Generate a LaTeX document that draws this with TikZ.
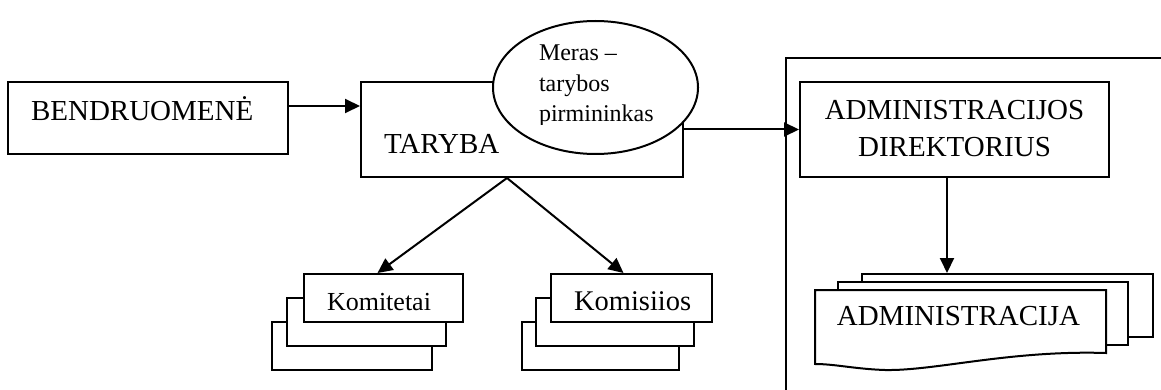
\documentclass[tikz,border=0pt]{standalone}
\usepackage{fontspec}
\setmainfont{Liberation Serif}
\usetikzlibrary{arrows.meta,shapes.geometric}
\begin{document}
\begin{tikzpicture}[x=1pt,y=-1pt,
  line width=2pt,
  box/.style={draw,fill=white,rectangle,inner sep=0pt,line width=2pt},
  txt/.style={inner sep=0pt,anchor=base west},
  big/.style={font=\fontsize{29}{37}\selectfont},
  arr/.style={-{Triangle[length=15pt,width=14pt]},line width=2pt}]
\useasboundingbox (0,0) rectangle (1161,390);
% container
\draw (1161,58) -- (786,58) -- (786,390);
% BENDRUOMENE
\node[box,minimum width=280pt,minimum height=72pt] (bend) at (148,118) {};
\node[txt,big] (bendt) at (30,121) {BENDRUOMENĖ};
% TARYBA
\node[box,minimum width=322pt,minimum height=95pt] (taryba) at (522,129.5) {};
\node[txt,big] (tarybat) at (383,154) {TARYBA};
% ellipse
\node[draw,fill=white,ellipse,inner sep=0pt,minimum width=205pt,minimum height=133pt,line width=2pt] (meras) at (595.5,87.5) {};
\begin{scope}
\clip (490,20) rectangle (700,125);
\node[txt,font=\fontsize{24}{30.5}\selectfont,align=left] (merast) at (538,122) {Meras –\\tarybos\\pirmininkas};
\end{scope}
% director
\node[box,minimum width=309pt,minimum height=95pt] (dir) at (954.5,129.5) {};
\node[big,align=center,inner sep=0pt,anchor=base] (dirt) at (954.5,157) {ADMINISTRACIJOS\\DIREKTORIUS};
% Komitetai stack
\node[box,minimum width=160pt,minimum height=48pt] (km3) at (352,346) {};
\node[box,minimum width=159pt,minimum height=48pt] (km2) at (366.5,322) {};
\node[box,minimum width=159pt,minimum height=48pt] (km1) at (383.5,298) {};
\node[txt,font=\fontsize{26}{30}\selectfont] (km1t) at (326,310) {Komitetai};
% Komisiios stack
\node[box,minimum width=157pt,minimum height=48pt] (ks3) at (600.5,346) {};
\node[box,minimum width=158pt,minimum height=48pt] (ks2) at (615,322) {};
\node[box,minimum width=161pt,minimum height=48pt] (ks1) at (631.5,298) {};
\node[txt,font=\fontsize{28.5}{32}\selectfont] (ks1t) at (573,310) {Komisiios};
% Administracija stack
\node[box,minimum width=291pt,minimum height=63pt] (adm3) at (1007.5,305.5) {};
\node[box,minimum width=290pt,minimum height=63pt] (adm2) at (983,313.5) {};
\draw[fill=white] (815,290) -- (1106,290) -- (1106,353)
  .. controls (1010,350) and (935,371) .. (885,370)
  .. controls (855,369) and (835,364) .. (815,364) -- cycle;
\node[big,inner sep=0pt,anchor=base] (adm1t) at (958.5,325) {ADMINISTRACIJA};
% connectors
\draw[arr] ([yshift=12pt]bend.east) -- ([yshift=12pt]bend.east -| taryba.west);
\draw[arr] (taryba.east) -- (dir.west);
\draw[arr] ([xshift=-7.5pt]dir.south) -- ([xshift=-7.5pt]dir.south |- adm3.north);
\draw[arr] ([xshift=-15pt]taryba.south) -- ([xshift=-6pt]km1.north);
\draw[arr] ([xshift=-15pt]taryba.south) -- ([xshift=-8pt]ks1.north);
\end{tikzpicture}
\end{document}
